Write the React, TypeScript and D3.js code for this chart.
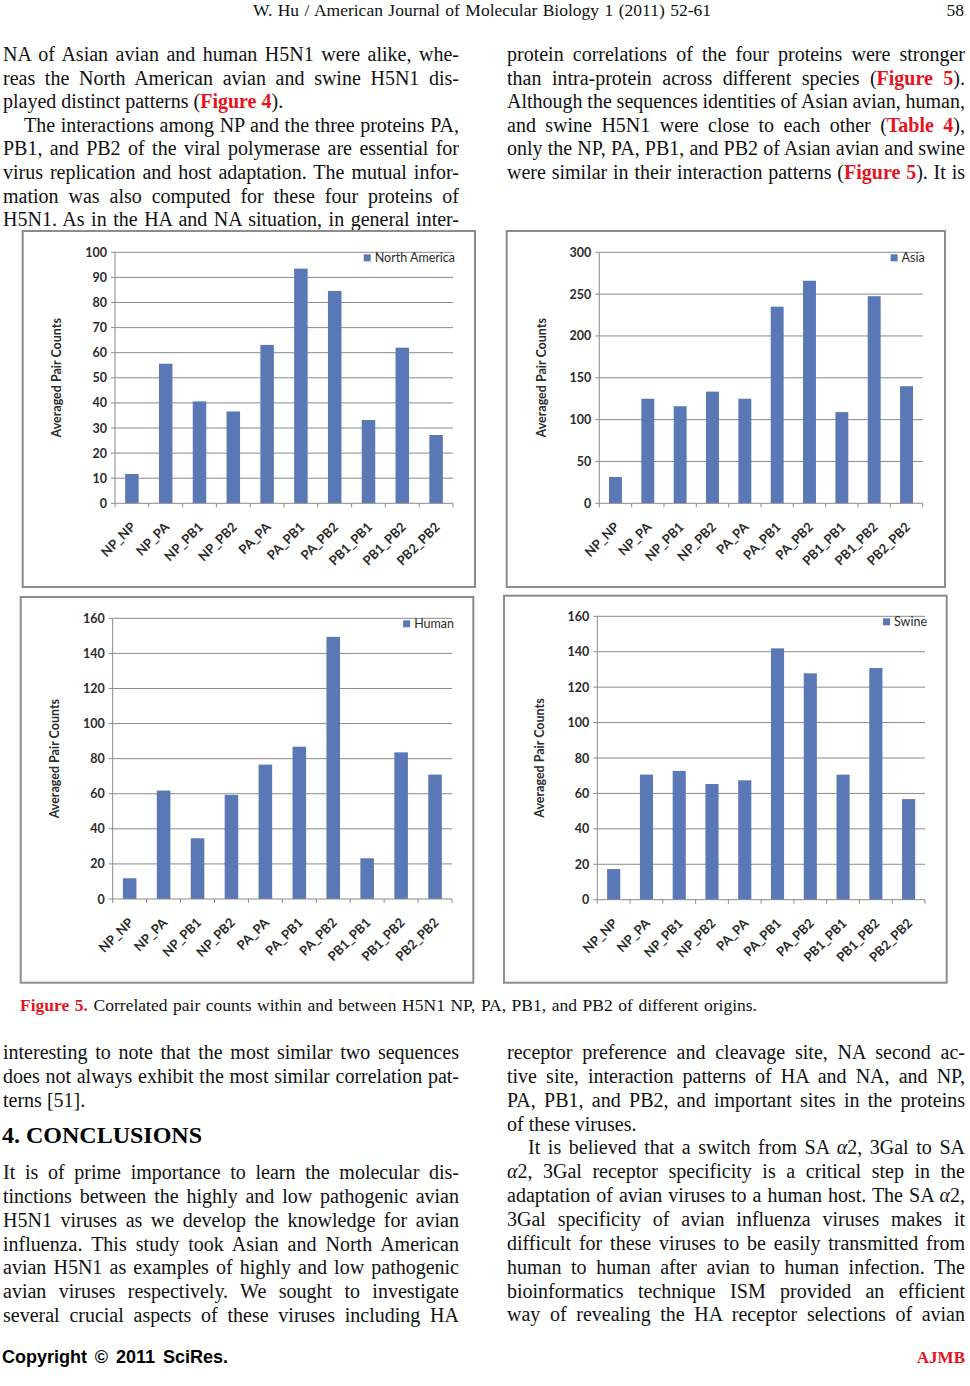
import React, { useLayoutEffect, useRef } from "react";
import * as d3 from "d3";

// ---------- chart data ----------
const categories = ["NP_NP", "NP_PA", "NP_PB1", "NP_PB2", "PA_PA", "PA_PB1", "PA_PB2", "PB1_PB1", "PB1_PB2", "PB2_PB2"];
const northAmerica = [11.7, 55.6, 40.6, 36.6, 63.1, 93.5, 84.6, 33.2, 62.0, 27.2];
const asia = [31.5, 125, 116, 133.5, 125, 235, 266, 109, 247.5, 140];
const human = [11.8, 61.8, 34.6, 59.3, 76.6, 86.8, 149.4, 23.2, 83.6, 70.9];
const swine = [17.3, 70.6, 72.7, 65.3, 67.4, 141.9, 127.8, 70.6, 130.8, 56.8];
const naTicks = [0, 10, 20, 30, 40, 50, 60, 70, 80, 90, 100];
const asiaTicks = [0, 50, 100, 150, 200, 250, 300];
const humanTicks = [0, 20, 40, 60, 80, 100, 120, 140, 160];
const swineTicks = [0, 20, 40, 60, 80, 100, 120, 140, 160];
const seriesNames = ["North America", "Asia", "Human", "Swine"];
const yAxisTitle = "Averaged Pair Counts";

// ---------- page text ----------
const headerText = "W. Hu / American Journal of Molecular Biology 1 (2011) 52-61";
const pageNumber = "58";
const captionText = "[r]Figure 5.[/r] Correlated pair counts within and between H5N1 NP, PA, PB1, and PB2 of different origins.";
const headingText = "4. CONCLUSIONS";
const footerLeft = "Copyright © 2011 SciRes.";
const footerRight = "AJMB";

const topLeftLines = [
  { t: "NA of Asian avian and human H5N1 were alike, whe-", j: true },
  { t: "reas the North American avian and swine H5N1 dis-", j: true },
  { t: "played distinct patterns ([r]Figure 4[/r]).", j: false },
  { t: "The interactions among NP and the three proteins PA,", j: true, ind: true },
  { t: "PB1, and PB2 of the viral polymerase are essential for", j: true },
  { t: "virus replication and host adaptation. The mutual infor-", j: true },
  { t: "mation was also computed for these four proteins of", j: true },
  { t: "H5N1. As in the HA and NA situation, in general inter-", j: true },
];
const topRightLines = [
  { t: "protein correlations of the four proteins were stronger", j: true },
  { t: "than intra-protein across different species ([r]Figure 5[/r]).", j: true },
  { t: "Although the sequences identities of Asian avian, human,", j: true },
  { t: "and swine H5N1 were close to each other ([r]Table 4[/r]),", j: true },
  { t: "only the NP, PA, PB1, and PB2 of Asian avian and swine", j: true },
  { t: "were similar in their interaction patterns ([r]Figure 5[/r]). It is", j: true },
];
const bottomLeftA = [
  { t: "interesting to note that the most similar two sequences", j: true },
  { t: "does not always exhibit the most similar correlation pat-", j: true },
  { t: "terns [51].", j: false },
];
const bottomLeftB = [
  { t: "It is of prime importance to learn the molecular dis-", j: true },
  { t: "tinctions between the highly and low pathogenic avian", j: true },
  { t: "H5N1 viruses as we develop the knowledge for avian", j: true },
  { t: "influenza. This study took Asian and North American", j: true },
  { t: "avian H5N1 as examples of highly and low pathogenic", j: true },
  { t: "avian viruses respectively. We sought to investigate", j: true },
  { t: "several crucial aspects of these viruses including HA", j: true },
];
const bottomRightLines = [
  { t: "receptor preference and cleavage site, NA second ac-", j: true },
  { t: "tive site, interaction patterns of HA and NA, and NP,", j: true },
  { t: "PA, PB1, and PB2, and important sites in the proteins", j: true },
  { t: "of these viruses.", j: false },
  { t: "It is believed that a switch from SA [i]α[/i]2, 3Gal to SA", j: true, ind: true },
  { t: "[i]α[/i]2, 3Gal receptor specificity is a critical step in the", j: true },
  { t: "adaptation of avian viruses to a human host. The SA [i]α[/i]2,", j: true },
  { t: "3Gal specificity of avian influenza viruses makes it", j: true },
  { t: "difficult for these viruses to be easily transmitted from", j: true },
  { t: "human to human after avian to human infection. The", j: true },
  { t: "bioinformatics technique ISM provided an efficient", j: true },
  { t: "way of revealing the HA receptor selections of avian", j: true },
];

// ---------- layout ----------
const SERIF = "'Liberation Serif','Times New Roman',serif";
const SANS = "'Liberation Sans',Arial,sans-serif";
const CHART_FONT = "Lato,'Open Sans',sans-serif";
const BODY_SIZE = 20;
const COL_L = { x: 3, w: 456 };
const COL_R = { x: 507, w: 458 };
const INDENT = 21;
const RED = "#e5141c";
const BAR = "#5b78b6";
const GRID = "#8a8a8a";

const panelLayout = [
  { box: [22.7, 231, 475, 587], plot: [115, 252.3, 453, 503.3] },
  { box: [506.7, 231, 945, 587], plot: [599.3, 252.3, 922.7, 503.3] },
  { box: [20.7, 597, 473.3, 982.7], plot: [112.7, 618.3, 452, 899] },
  { box: [504, 595.7, 946.7, 982.7], plot: [597.3, 616.3, 925, 899.7] },
];
const panelValues = [northAmerica, asia, human, swine];
const panelTicks = [naTicks, asiaTicks, humanTicks, swineTicks];

function parse(spec: string) {
  const parts = spec.split(/(\[r\].*?\[\/r\]|\[i\].*?\[\/i\])/).filter((s) => s.length);
  return parts.map((p) => {
    if (p.startsWith("[r]")) return { s: p.slice(3, -4), red: true };
    if (p.startsWith("[i]")) return { s: p.slice(3, -4), it: true };
    return { s: p };
  });
}

function Line({ x, y, spec, size = BODY_SIZE, target, anchor = "start", family = SERIF, weight = 400, fill = "#111" }: any) {
  const segs = parse(spec);
  return (
    <text
      x={x}
      y={y}
      fontFamily={family}
      fontSize={size}
      fontWeight={weight}
      fill={fill}
      textAnchor={anchor}
      data-target={target ?? undefined}
      style={{ whiteSpace: "pre" }}
    >
      {segs.map((sg: any, i: number) => (
        <tspan
          key={i}
          fill={sg.red ? RED : undefined}
          fontWeight={sg.red ? 700 : undefined}
          fontStyle={sg.it ? "italic" : undefined}
        >
          {sg.s}
        </tspan>
      ))}
    </text>
  );
}

function Column({ lines, col, y0, step }: any) {
  return (
    <g>
      {lines.map((ln: any, i: number) => {
        const x = col.x + (ln.ind ? INDENT : 0);
        const w = col.w - (ln.ind ? INDENT : 0);
        return <Line key={i} x={x} y={y0 + i * step} spec={ln.t} target={ln.j ? w : undefined} />;
      })}
    </g>
  );
}

function Panel({ idx }: { idx: number }) {
  const { box, plot } = panelLayout[idx];
  const values = panelValues[idx];
  const ticks = panelTicks[idx];
  const [bx0, by0, bx1, by1] = box;
  const [px0, py0, px1, py1] = plot;
  const x = d3.scaleBand<string>().domain(categories).range([px0, px1]).paddingInner(0.6).paddingOuter(0.3);
  const y = d3.scaleLinear().domain([0, ticks[ticks.length - 1]]).range([py1, py0]);
  const step = x.step();
  const bounds = d3.range(categories.length + 1).map((i) => px0 + i * step);
  const legendY = py0 + 5.5;
  return (
    <g>
      <rect x={bx0} y={by0} width={bx1 - bx0} height={by1 - by0} fill="#fff" stroke="#8c8c8c" strokeWidth={2} />
      {ticks.map((t) => (
        <g key={t}>
          {t !== 0 && <line x1={px0} x2={px1} y1={y(t)} y2={y(t)} stroke={GRID} strokeWidth={1} />}
          <line x1={px0 - 4} x2={px0} y1={y(t)} y2={y(t)} stroke={GRID} strokeWidth={1} />
          <text x={px0 - 8} y={y(t)} dy="0.36em" textAnchor="end" fontFamily={CHART_FONT} fontWeight={700} fontSize={12.5} fill="#2b2b2b">
            {t}
          </text>
        </g>
      ))}
      {values.map((v, i) => (
        <rect key={i} x={x(categories[i])} y={y(v)} width={x.bandwidth()} height={y(0) - y(v)} fill={BAR} />
      ))}
      <line x1={px0} x2={px0} y1={py0} y2={py1} stroke={GRID} strokeWidth={1} />
      <line x1={px0} x2={px1} y1={py1} y2={py1} stroke={GRID} strokeWidth={1} />
      {bounds.map((b, i) => (
        <line key={i} x1={b} x2={b} y1={py1} y2={py1 + 4} stroke={GRID} strokeWidth={1} />
      ))}
      {categories.map((c) => {
        const cx = (x(c) as number) + x.bandwidth() / 2;
        return (
          <text
            key={c}
            transform={`translate(${cx + 4.5},${py1 + 24.5}) rotate(-45)`}
            textAnchor="end"
            fontFamily={CHART_FONT}
            fontWeight={700}
            fontSize={13}
            fill="#2b2b2b"
          >
            {c}
          </text>
        );
      })}
      <text
        transform={`translate(${px0 - 58},${(py0 + py1) / 2}) rotate(-90)`}
        textAnchor="middle"
        dy="0.35em"
        fontFamily={CHART_FONT}
        fontWeight={700}
        fontSize={12.5}
        fill="#2b2b2b"
      >
        {yAxisTitle}
      </text>
      <text x={px1 + 2} y={legendY} dy="0.36em" textAnchor="end" fontFamily={CHART_FONT} fontSize={12.5} fill="#2b2b2b" data-legend="1">
        {seriesNames[idx]}
      </text>
      <rect data-swatch={idx} x={px1 - 90} y={legendY - 3.5} width={7} height={7} fill={BAR} />
    </g>
  );
}

export default function App() {
  const ref = useRef<SVGSVGElement>(null);
  useLayoutEffect(() => {
    const svg = ref.current;
    if (!svg) return;
    svg.querySelectorAll("text[data-target]").forEach((el: any) => {
      el.style.wordSpacing = "0px";
      const w = el.getComputedTextLength();
      const target = +el.getAttribute("data-target");
      const spaces = (el.textContent.match(/ /g) || []).length;
      if (spaces > 0) el.style.wordSpacing = (target - w) / spaces + "px";
    });
    const legends = svg.querySelectorAll("text[data-legend]");
    const swatches = svg.querySelectorAll("rect[data-swatch]");
    legends.forEach((el: any, i: number) => {
      const bb = el.getBBox();
      const sw = swatches[i] as any;
      if (sw) sw.setAttribute("x", String(bb.x - 4 - 7));
    });
  }, []);

  const topY = 61;
  const topStep = 23.6;
  const botStep = 23.85;
  return (
    <svg
      ref={ref}
      width={970}
      height={1386}
      viewBox="0 0 970 1386"
      style={{ position: "absolute", left: 0, top: 0, background: "#fff" }}
    >
      <rect x={0} y={0} width={970} height={1386} fill="#fff" />
      <Line x={482} y={16} spec={headerText} size={17.5} anchor="middle" target={458} />
      <Line x={964} y={16} spec={pageNumber} size={17.5} anchor="end" />
      <Column lines={topLeftLines} col={COL_L} y0={topY} step={topStep} />
      <Column lines={topRightLines} col={COL_R} y0={topY} step={topStep} />
      {[0, 1, 2, 3].map((i) => (
        <Panel key={i} idx={i} />
      ))}
      <Line x={20} y={1011} spec={captionText} size={17.5} target={737} />
      <Column lines={bottomLeftA} col={COL_L} y0={1059} step={botStep} />
      <Line x={2} y={1143} spec={headingText} size={24} weight={700} fill="#000" />
      <Column lines={bottomLeftB} col={COL_L} y0={1179} step={botStep} />
      <Column lines={bottomRightLines} col={COL_R} y0={1059} step={botStep} />
      <Line x={2} y={1363} spec={footerLeft} size={18} family={SANS} weight={700} fill="#000" target={226} />
      <text x={965} y={1363} textAnchor="end" fontFamily={SERIF} fontWeight={700} fontSize={17} fill={RED}>
        {footerRight}
      </text>
    </svg>
  );
}
